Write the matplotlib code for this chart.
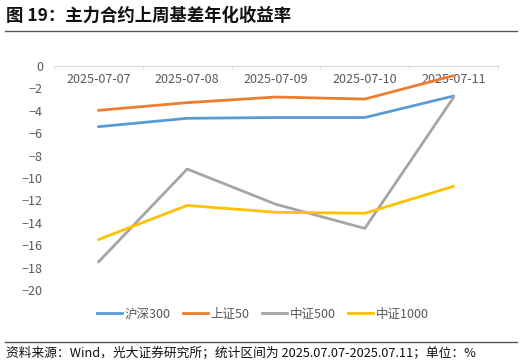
import matplotlib.pyplot as plt
from matplotlib.lines import Line2D

plt.rcParams['font.family'] = ['Noto Sans CJK SC', 'DejaVu Sans']

dates = ['2025-07-07', '2025-07-08', '2025-07-09', '2025-07-10', '2025-07-11']
hs300 = [-5.42, -4.67, -4.60, -4.60, -2.68]
sz50 = [-3.96, -3.27, -2.77, -2.95, -0.86]
zz500 = [-17.5, -9.2, -12.35, -14.5, -2.8]
zz1000 = [-15.5, -12.45, -13.06, -13.15, -10.74]

names = ['沪深300', '上证50', '中证500', '中证1000']
colors = ['#5B9BD5', '#ED7D31', '#A5A5A5', '#FFC000']

fig = plt.figure(figsize=(5.3, 3.64), dpi=100)
ax = fig.add_axes([54 / 530, 1 - 290 / 364, 444 / 530, 224 / 364])

x = list(range(len(dates)))
for vals, c in zip([hs300, sz50, zz500, zz1000], colors):
    ax.plot(x, vals, color=c, lw=2.0, solid_capstyle='round')

ax.set_xlim(-0.5, 4.5)
ax.set_ylim(-20, 0)
ax.set_yticks(range(-20, 1, 2))
ax.xaxis.tick_top()
ax.set_xticks(x)
ax.set_xticklabels(dates)
ax.set_xticks([i - 0.5 for i in range(6)], minor=True)
ax.tick_params(axis='x', which='major', length=0, pad=-14.5, labelsize=9, labelcolor='#595959')
ax.tick_params(axis='x', which='minor', length=3, direction='in', color='#D9D9D9')
ax.tick_params(axis='y', length=0, pad=8, labelsize=9, labelcolor='#595959')
for s in ['left', 'right', 'bottom']:
    ax.spines[s].set_visible(False)
ax.spines['top'].set_color('#D9D9D9')
ax.spines['top'].set_linewidth(0.8)

handles = [Line2D([], [], color=c, lw=2.0) for c in colors]
fig.legend(handles, names, loc='center', bbox_to_anchor=(263 / 530, 1 - 314 / 364),
           ncol=4, frameon=False, fontsize=9, labelcolor='#595959',
           handlelength=2.0, handletextpad=0.2, columnspacing=1.0)

fig.text(6 / 530, 1 - 16 / 364, '图 19：主力合约上周基差年化收益率', fontsize=12.5,
         fontweight='bold', va='center', ha='left', color='#111111')
fig.add_artist(Line2D([5 / 530, 517 / 530], [1 - 31 / 364, 1 - 31 / 364], color='#555555', lw=1.0))
fig.add_artist(Line2D([5 / 530, 517 / 530], [1 - 342 / 364, 1 - 342 / 364], color='#555555', lw=1.0))
fig.text(6 / 530, 1 - 353 / 364, '资料来源：Wind，光大证券研究所；统计区间为 2025.07.07-2025.07.11；单位：%',
         fontsize=9.2, va='center', ha='left', color='#111111')

fig.savefig('out.png', dpi=100)
